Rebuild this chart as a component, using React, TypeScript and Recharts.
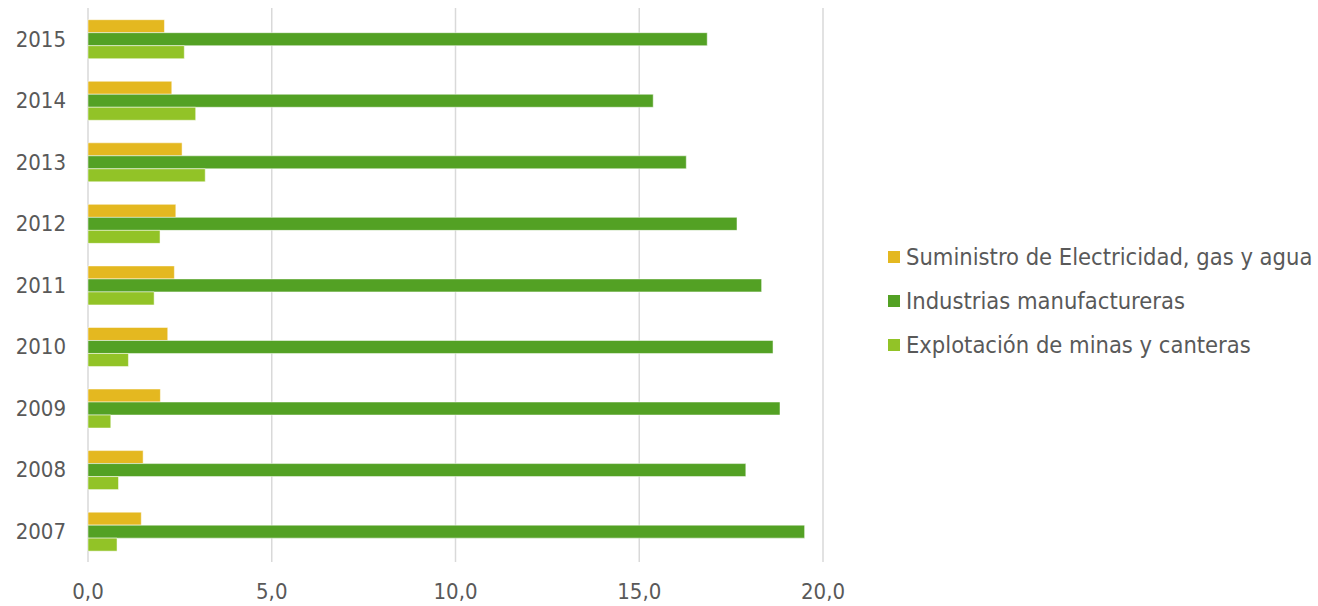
import { Bar, BarChart, CartesianGrid, Legend, XAxis, YAxis } from 'recharts';

const YEARS = ['2015', '2014', '2013', '2012', '2011', '2010', '2009', '2008', '2007'];
const ELECTRICIDAD = [2.08, 2.28, 2.56, 2.39, 2.35, 2.17, 1.97, 1.5, 1.45];
const MANUFACTURA = [16.85, 15.38, 16.28, 17.66, 18.33, 18.64, 18.83, 17.9, 19.5];
const MINAS = [2.62, 2.93, 3.19, 1.96, 1.8, 1.1, 0.62, 0.83, 0.79];
const X_TICKS = [0, 5, 10, 15, 20];

const SERIES = [
  { key: 'elec', name: 'Suministro de Electricidad, gas y agua', color: '#E4B820' },
  { key: 'manu', name: 'Industrias manufactureras', color: '#53A124' },
  { key: 'minas', name: 'Explotación de minas y canteras', color: '#92C327' },
];

const data = YEARS.map((year, i) => ({
  year,
  elec: ELECTRICIDAD[i],
  manu: MANUFACTURA[i],
  minas: MINAS[i],
}));

const FONT = '"DejaVu Sans Condensed", "DejaVu Sans", sans-serif';
const TEXT = '#595959';

function LegendBox() {
  return (
    <div style={{ fontFamily: FONT, fontSize: 23.5, color: TEXT }}>
      {SERIES.map((s) => (
        <div key={s.key} style={{ display: 'flex', alignItems: 'center', height: 44 }}>
          <span style={{ width: 12, height: 12, background: s.color, marginRight: 6, display: 'inline-block' }} />
          <span style={{ whiteSpace: 'nowrap' }}>{s.name}</span>
        </div>
      ))}
    </div>
  );
}

export default function App() {
  return (
    <div style={{ position: 'absolute', left: 0, top: 0, width: 1318, height: 606, background: '#fff' }}>
      <BarChart
        width={1318}
        height={606}
        data={data}
        layout="vertical"
        barCategoryGap="19%"
        barGap={0}
        margin={{ top: 8, right: 495, bottom: 0, left: 0 }}
      >
        <CartesianGrid horizontal={false} stroke="#D9D9D9" strokeWidth={1.5} />
        <XAxis
          type="number"
          domain={[0, 20]}
          ticks={X_TICKS}
          tickFormatter={(v: number) => v.toFixed(1).replace('.', ',')}
          axisLine={false}
          tickLine={false}
          tickSize={0}
          tickMargin={21}
          height={44}
          tick={{ fontFamily: FONT, fontSize: 22, fill: TEXT }}
        />
        <YAxis
          type="category"
          dataKey="year"
          axisLine={false}
          tickLine={false}
          tickSize={0}
          tickMargin={22}
          width={88}
          tick={{ fontFamily: FONT, fontSize: 22, fill: TEXT }}
        />
        <Legend
          layout="vertical"
          align="center"
          verticalAlign="middle"
          content={() => <LegendBox />}
          wrapperStyle={{ left: 888, top: 235, width: 430 }}
        />
        {SERIES.map((s) => (
          <Bar key={s.key} dataKey={s.key} name={s.name} fill={s.color} stroke="#fff" strokeWidth={0.5} isAnimationActive={false} />
        ))}
      </BarChart>
    </div>
  );
}
